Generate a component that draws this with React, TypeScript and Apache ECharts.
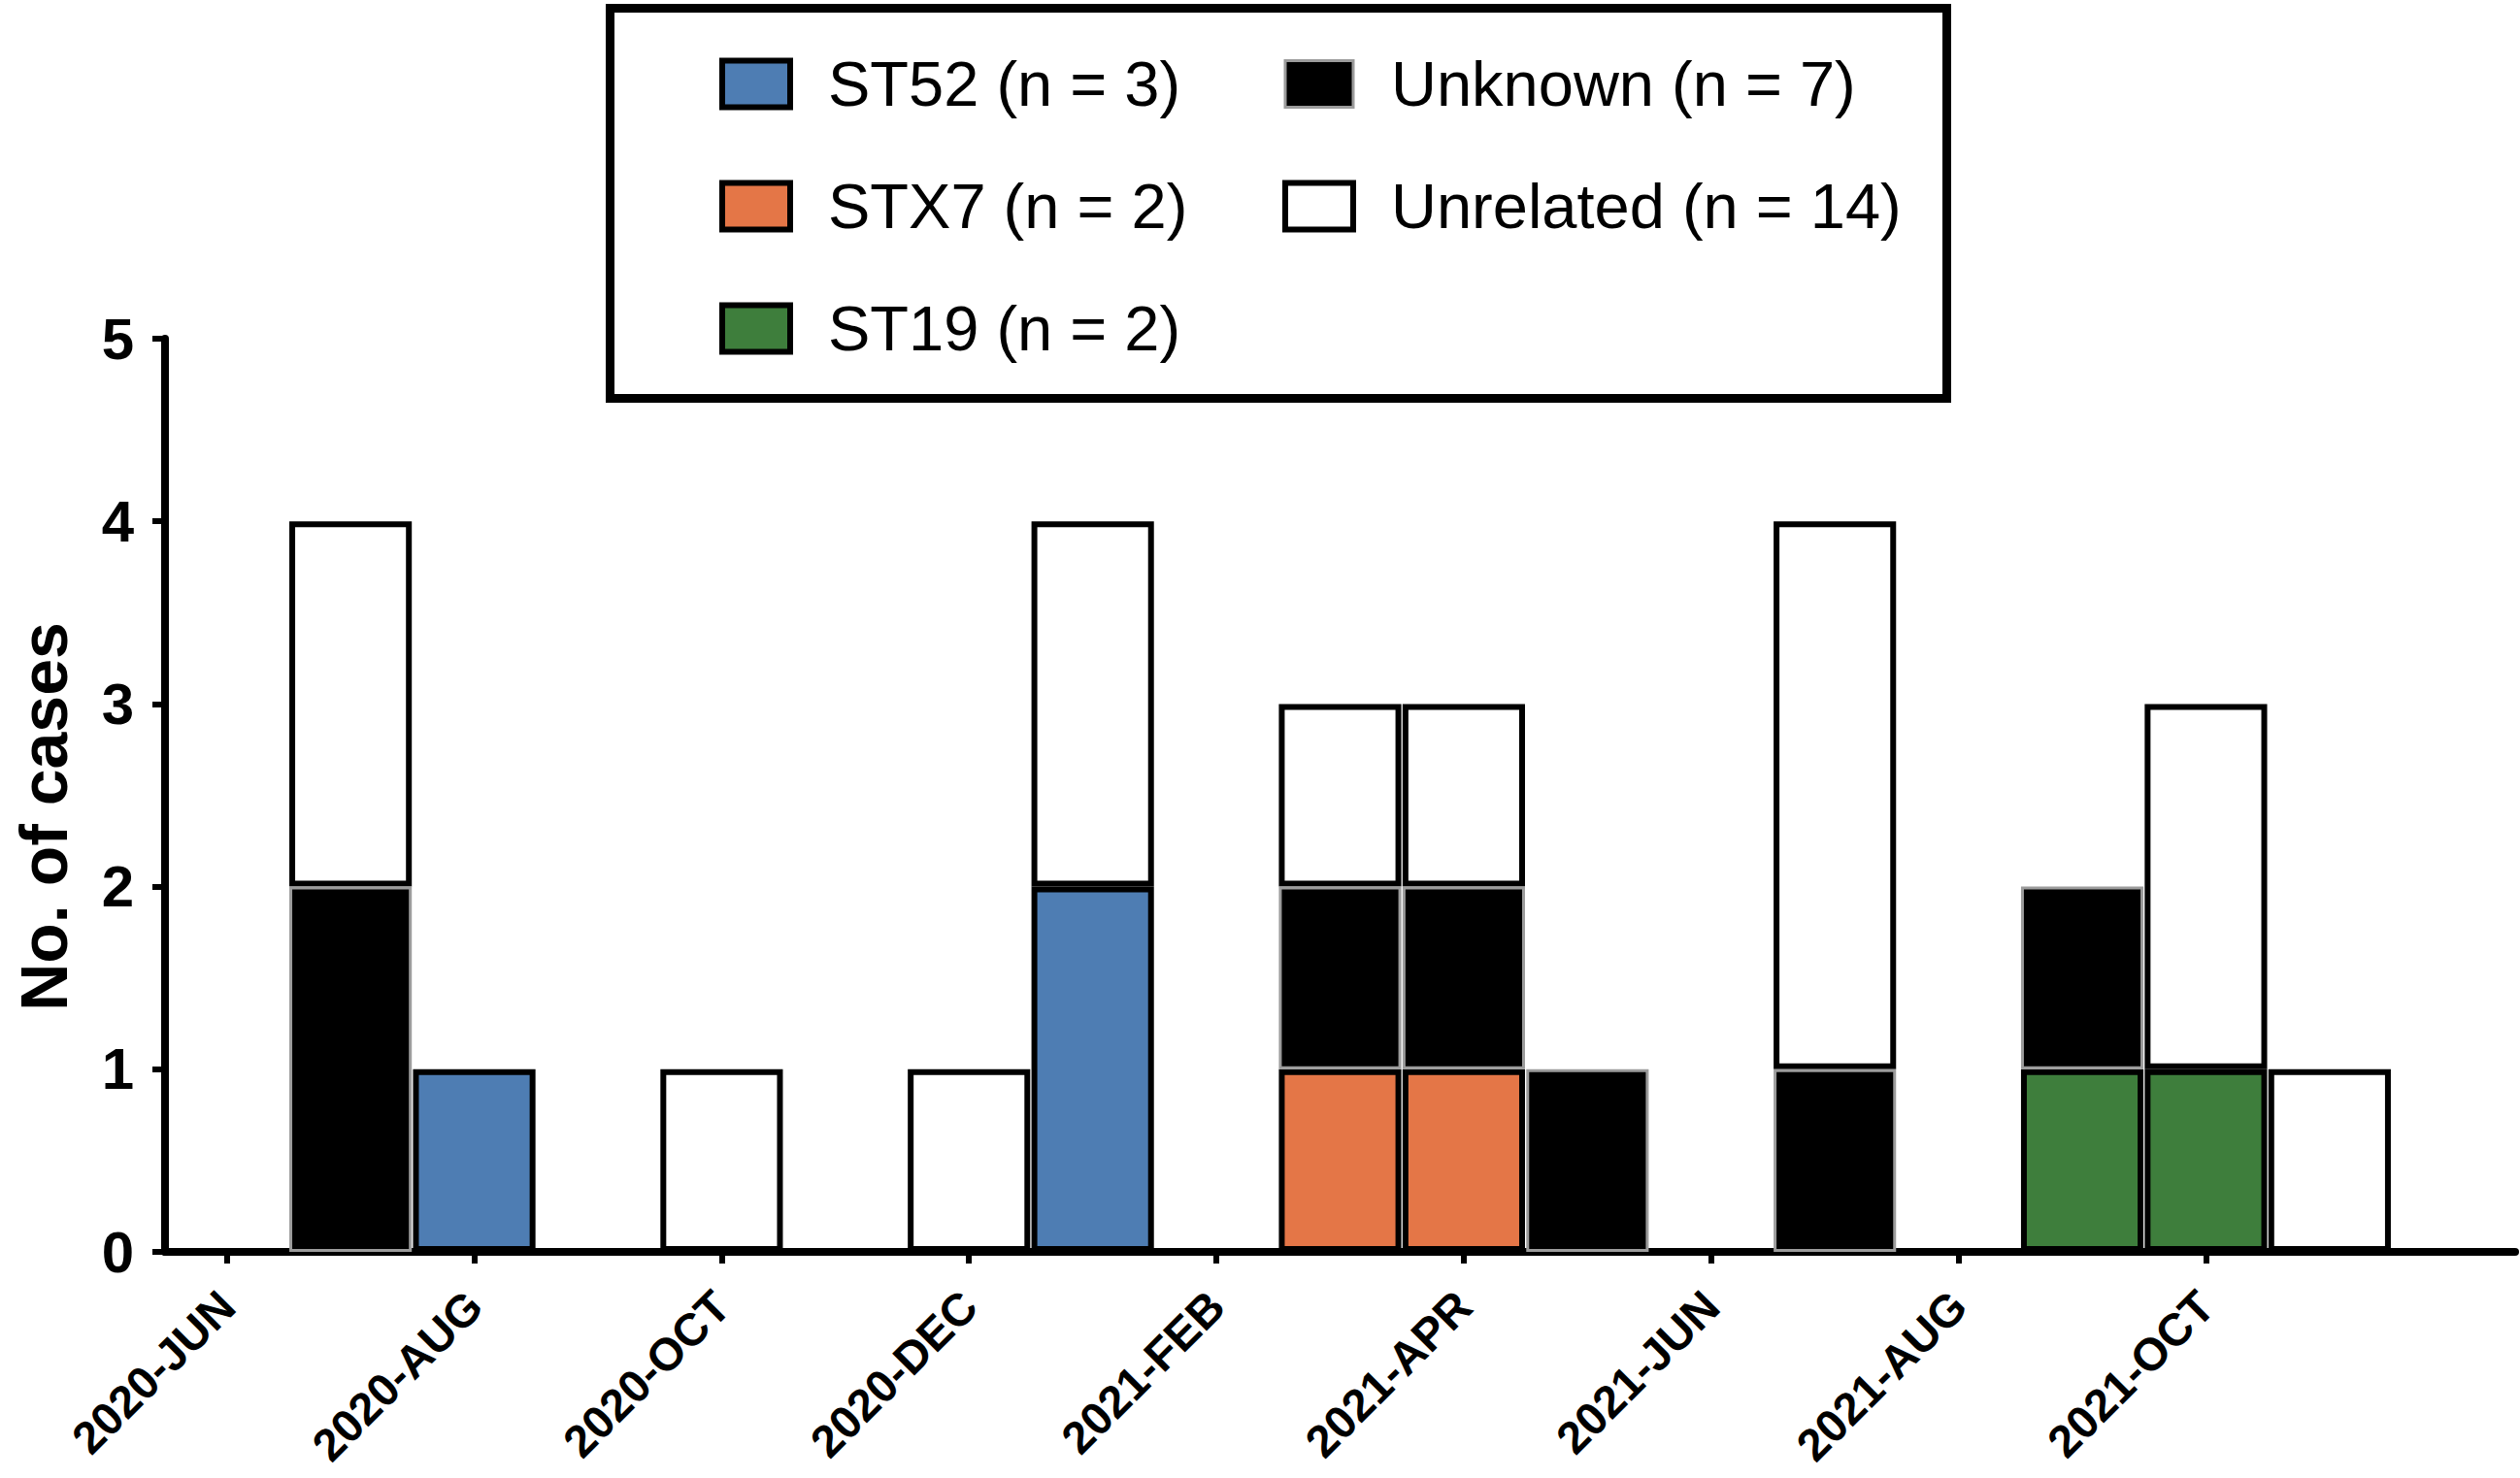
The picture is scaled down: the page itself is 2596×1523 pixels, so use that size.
import React, { useEffect, useRef } from "react";
import * as echarts from "echarts";

// Monthly case counts by sequence type, stacked per month.
const months = [
  "2020-JUN", "2020-JUL", "2020-AUG", "2020-SEP", "2020-OCT", "2020-NOV", "2020-DEC",
  "2021-JAN", "2021-FEB", "2021-MAR", "2021-APR", "2021-MAY", "2021-JUN", "2021-JUL",
  "2021-AUG", "2021-SEP", "2021-OCT", "2021-NOV", "2021-DEC",
];
const st52 = [0, 0, 1, 0, 0, 0, 0, 2, 0, 0, 0, 0, 0, 0, 0, 0, 0, 0, 0];
const stx7 = [0, 0, 0, 0, 0, 0, 0, 0, 0, 1, 1, 0, 0, 0, 0, 0, 0, 0, 0];
const st19 = [0, 0, 0, 0, 0, 0, 0, 0, 0, 0, 0, 0, 0, 0, 0, 1, 1, 0, 0];
const unknown = [0, 2, 0, 0, 0, 0, 0, 0, 0, 1, 1, 1, 0, 1, 0, 1, 0, 0, 0];
const unrelated = [0, 2, 0, 0, 1, 0, 1, 2, 0, 1, 1, 0, 0, 3, 0, 0, 2, 1, 0];

const seriesNames = [
  "ST52 (n = 3)",
  "STX7 (n = 2)",
  "ST19 (n = 2)",
  "Unknown (n = 7)",
  "Unrelated (n = 14)",
];
const yMin = 0;
const yMax = 5;
const yStep = 1;

const FONT = "'Liberation Sans', Arial, Helvetica, sans-serif";
const OUTLINE = "#000000";
const GREY_EDGE = "#9c9c9c";

// Labels and ticks on every other month, stopping before the last one.
const showMonth = (i: number) => i % 2 === 0 && i < months.length - 1;

const blank = (v: number[]) => v.map((x) => (x === 0 ? null : x));

function barSeries(
  name: string,
  values: number[],
  fill: string,
  edge: string,
  edgeWidth: number,
  z: number
) {
  return {
    name,
    type: "bar",
    stack: "cases",
    data: blank(values),
    barCategoryGap: "1%",
    z,
    itemStyle: { color: fill, borderColor: edge, borderWidth: edgeWidth },
    emphasis: { disabled: true },
  };
}

const legendText = (padLeft: number) => ({
  fontFamily: FONT,
  fontSize: 65,
  color: "#000",
  padding: [0, 0, 0, padLeft],
});

const legendBase = {
  orient: "vertical",
  top: 54,
  padding: 0,
  itemWidth: 70,
  itemHeight: 48,
  itemGap: 61,
  icon: "rect",
  selectedMode: false,
};

export default function App() {
  const ref = useRef<HTMLDivElement>(null);

  useEffect(() => {
    if (!ref.current) return;
    const chart = echarts.init(ref.current, null, { renderer: "svg" });
    chart.setOption({
      animation: false,
      backgroundColor: "#ffffff",
      grid: {
        left: 170,
        right: 5,
        top: 349,
        bottom: 233,
        containLabel: false,
        outerBoundsMode: "none",
      },
      legend: [
        {
          ...legendBase,
          left: 741,
          data: seriesNames.slice(0, 3).map((n) => ({
            name: n,
            itemStyle: { borderColor: OUTLINE, borderWidth: 6 },
          })),
          textStyle: legendText(34),
        },
        {
          ...legendBase,
          left: 1321,
          data: [
            { name: seriesNames[3], itemStyle: { borderColor: GREY_EDGE, borderWidth: 3 } },
            { name: seriesNames[4], itemStyle: { borderColor: OUTLINE, borderWidth: 6 } },
          ],
          textStyle: legendText(34),
        },
      ],
      graphic: [
        {
          type: "rect",
          shape: { x: 628.5, y: 8.5, width: 1377, height: 402 },
          style: { fill: "none", stroke: "#000", lineWidth: 9 },
          silent: true,
        },
      ],
      xAxis: {
        type: "category",
        data: months,
        boundaryGap: true,
        axisLine: { lineStyle: { color: "#000", width: 8 } },
        axisTick: {
          show: true,
          alignWithLabel: true,
          interval: (i: number) => showMonth(i),
          length: 12,
          lineStyle: { color: "#000", width: 6 },
        },
        axisLabel: {
          interval: (i: number) => showMonth(i),
          rotate: 45,
          margin: 48,
          fontFamily: FONT,
          fontSize: 47,
          fontWeight: "bold",
          color: "#000",
        },
        splitLine: { show: false },
      },
      yAxis: {
        type: "value",
        min: yMin,
        max: yMax,
        interval: yStep,
        name: "No. of cases",
        nameLocation: "middle",
        nameGap: 95,
        nameTextStyle: {
          fontFamily: FONT,
          fontSize: 68,
          lineHeight: 60,
          fontWeight: "bold",
          color: "#000",
          padding: [0, 44, 0, 0],
        },
        axisLine: { show: true, lineStyle: { color: "#000", width: 8 } },
        axisTick: { show: true, length: 13, lineStyle: { color: "#000", width: 6 } },
        axisLabel: {
          margin: 32,
          fontFamily: FONT,
          fontSize: 60,
          fontWeight: "bold",
          color: "#000",
        },
        splitLine: { show: false },
      },
      series: [
        barSeries(seriesNames[0], st52, "#4e7db3", OUTLINE, 6, 2),
        barSeries(seriesNames[1], stx7, "#e47647", OUTLINE, 6, 2),
        barSeries(seriesNames[2], st19, "#3e7e3c", OUTLINE, 6, 2),
        barSeries(seriesNames[3], unknown, "#000000", GREY_EDGE, 3, 3),
        barSeries(seriesNames[4], unrelated, "#ffffff", OUTLINE, 6, 2),
      ],
    });
    return () => chart.dispose();
  }, []);

  return (
    <div
      ref={ref}
      style={{ position: "absolute", left: 0, top: 0, width: 2596, height: 1523 }}
    />
  );
}
